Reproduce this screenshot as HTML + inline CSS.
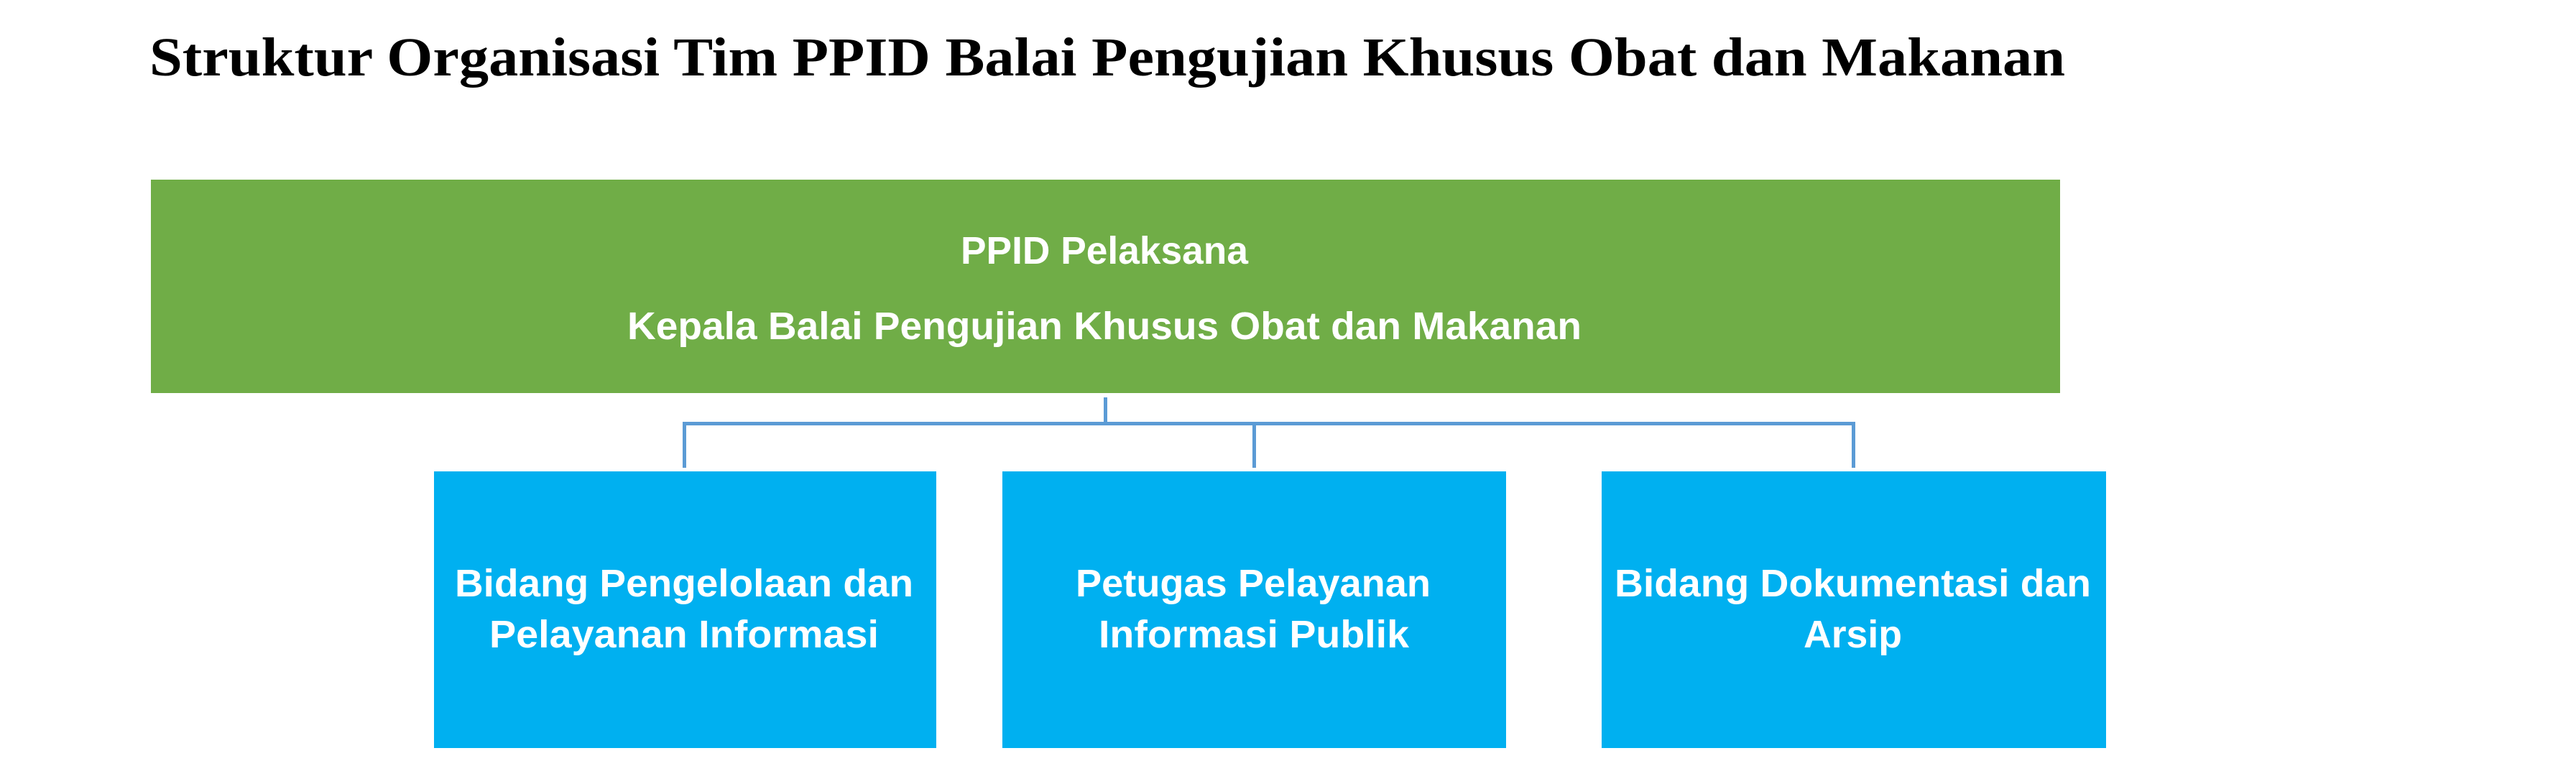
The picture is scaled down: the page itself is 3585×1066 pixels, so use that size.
<!DOCTYPE html>
<html><head><meta charset="utf-8"><style>html,body{margin:0;padding:0;background:#fff;}svg{display:block}</style></head>
<body>
<svg width="3585" height="1066" viewBox="0 0 3585 1066" xmlns="http://www.w3.org/2000/svg">
<text x="208" y="105" font-family="Liberation Serif, serif" font-weight="bold" font-size="76" textLength="2666" lengthAdjust="spacingAndGlyphs" fill="#000">Struktur Organisasi Tim PPID Balai Pengujian Khusus Obat dan Makanan</text>
<rect x="210" y="250" width="2657" height="297" fill="#70AD47"/>
<g font-family="Liberation Sans, sans-serif" font-weight="bold" font-size="54" fill="#fff">
<text x="1337" y="367" textLength="400" lengthAdjust="spacingAndGlyphs">PPID Pelaksana</text>
<text x="873" y="472" textLength="1328" lengthAdjust="spacingAndGlyphs">Kepala Balai Pengujian Khusus Obat dan Makanan</text>
</g>
<g fill="#5B9BD5">
<rect x="1536" y="553" width="5" height="37"/>
<rect x="950" y="587" width="1632" height="5"/>
<rect x="950" y="587" width="5" height="64"/>
<rect x="1743" y="587" width="5" height="64"/>
<rect x="2577" y="587" width="5" height="64"/>
</g>
<rect x="604" y="656" width="699" height="385" fill="#00B0F0"/>
<rect x="1395" y="656" width="701" height="385" fill="#00B0F0"/>
<rect x="2229" y="656" width="702" height="385" fill="#00B0F0"/>
<g font-family="Liberation Sans, sans-serif" font-weight="bold" font-size="54" fill="#fff">
<text x="633" y="830" textLength="638" lengthAdjust="spacingAndGlyphs">Bidang Pengelolaan dan</text>
<text x="681" y="901" textLength="542" lengthAdjust="spacingAndGlyphs">Pelayanan Informasi</text>
<text x="1497" y="830" textLength="494" lengthAdjust="spacingAndGlyphs">Petugas Pelayanan</text>
<text x="1529" y="901" textLength="432" lengthAdjust="spacingAndGlyphs">Informasi Publik</text>
<text x="2247" y="830" textLength="663" lengthAdjust="spacingAndGlyphs">Bidang Dokumentasi dan</text>
<text x="2510" y="901" textLength="137" lengthAdjust="spacingAndGlyphs">Arsip</text>
</g>
</svg>
</body></html>
